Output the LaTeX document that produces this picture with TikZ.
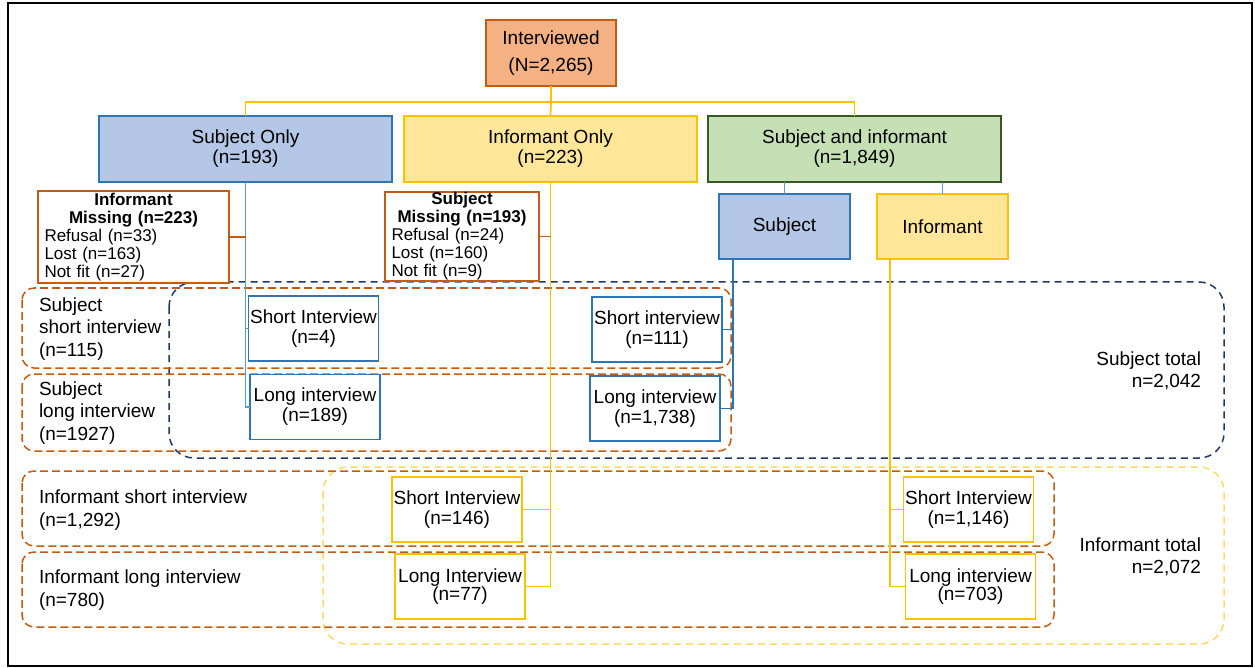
\documentclass[tikz,border=0pt]{standalone}
\usepackage{fontspec}
\setmainfont{Liberation Sans}
\definecolor{orgfill}{HTML}{F4B183}
\definecolor{orgdraw}{HTML}{C55A11}
\definecolor{bluefill}{HTML}{B4C7E7}
\definecolor{bluedraw}{HTML}{2E75B6}
\definecolor{bluelight}{HTML}{5B9BD5}
\definecolor{yelfill}{HTML}{FFE699}
\definecolor{yeldraw}{HTML}{FFC000}
\definecolor{yeldash}{HTML}{FFD966}
\definecolor{grnfill}{HTML}{C5E0B4}
\definecolor{grndraw}{HTML}{385723}
\definecolor{navy}{HTML}{203864}
\begin{document}
\begin{tikzpicture}[x=1pt,y=-1pt,
  every node/.style={inner sep=0pt, outer sep=0pt},
  box/.style={draw, line width=1.8pt, align=center, font=\fontsize{19}{20}\selectfont},
  bigbox/.style={box, minimum width=293pt, minimum height=66pt},
  midbox/.style={box, minimum width=131pt, minimum height=65pt},
  ibox/.style={box, fill=white, minimum width=130pt, minimum height=65pt},
  bluebox/.style={ibox, draw=bluedraw},
  yelbox/.style={ibox, draw=yeldraw},
  missbox/.style={draw=orgdraw, fill=white, line width=1.6pt, align=left, inner xsep=6.5pt, font=\fontsize{17}{18}\selectfont},
  lbl/.style={anchor=west, align=left, font=\fontsize{19}{22.5}\selectfont},
  tot/.style={anchor=east, align=right, font=\fontsize{19}{22.5}\selectfont},
  odash/.style={draw=orgdraw, line width=1.5pt, dash pattern=on 8pt off 4pt, rounded corners=12pt},
  ndash/.style={draw=navy, line width=1.5pt, dash pattern=on 7pt off 5pt, rounded corners=25pt},
  ydashf/.style={draw=yeldash, line width=1.5pt, dash pattern=on 7pt off 5pt, rounded corners=25pt},
  yline/.style={draw=yeldraw, line width=1.7pt},
  bline/.style={draw=bluedraw, line width=1.7pt},
  lbline/.style={draw=bluelight, line width=1.7pt},
  mline/.style={draw=orgdraw, line width=1.7pt}
]
\useasboundingbox (0,0) rectangle (1255,668);
% outer frame
\draw[line width=1.5pt, black] (8,3) rectangle (1252,666);

% dashed group frames
\draw[ndash] (169,282) rectangle (1224,458);
\draw[ydashf] (323,467) rectangle (1224,644);
\draw[odash] (22,288) rectangle (731,368);
\draw[odash] (22,374) rectangle (731,451);
\draw[odash] (22,471) rectangle (1054,546);
\draw[odash] (22,552) rectangle (1054,627);

% group labels
\node[lbl] (lss) at (39,329) {Subject\\short interview\\(n=115)};
\node[lbl] (lsl) at (39,413) {Subject\\long interview\\(n=1927)};
\node[lbl] (lis) at (39,510) {Informant short interview\\(n=1,292)};
\node[lbl] (lil) at (39,590) {Informant long interview\\(n=780)};
\node[tot] (stot) at (1201,371) {Subject total\\n=2,042};
\node[tot] (itot) at (1201,557) {Informant total\\n=2,072};

% main nodes
\node[box, fill=orgfill, draw=orgdraw, minimum width=130pt, minimum height=66pt,
      font=\fontsize{19}{27}\selectfont] (int) at (551,53) {Interviewed\\(N=2,265)};
\node[bigbox, fill=bluefill, draw=bluedraw] (so) at (245.5,149) {Subject Only\\(n=193)};
\node[bigbox, fill=yelfill, draw=yeldraw] (io) at (550.5,149) {Informant Only\\(n=223)};
\node[bigbox, fill=grnfill, draw=grndraw] (sai) at (854.5,149) {Subject and informant\\(n=1,849)};
\node[midbox, fill=bluefill, draw=bluedraw] (subj) at (784.5,226.5) {Subject};
\node[midbox, fill=yelfill, draw=yeldraw] (inf) at (942.5,226.5) {Informant};

\node[missbox, text width=178pt, minimum height=92pt] (im) at (133.5,237)
 {\makebox[178pt]{\textbf{Informant}}\\
  \makebox[178pt]{\textbf{Missing (n=223)}}\\
  Refusal (n=33)\\Lost (n=163)\\Not fit (n=27)};
\node[missbox, text width=141pt, minimum height=89pt] (sm) at (462,236.5)
 {\makebox[141pt]{\textbf{Subject}}\\
  \makebox[141pt]{\textbf{Missing (n=193)}}\\
  Refusal (n=24)\\Lost (n=160)\\Not fit (n=9)};

% interview boxes
\node[bluebox] (s4) at (313.5,328.5) {Short Interview\\(n=4)};
\node[bluebox] (l189) at (315,407) {Long interview\\(n=189)};
\node[bluebox] (s111) at (657,329.5) {Short interview\\(n=111)};
\node[bluebox] (l1738) at (655,408.5) {Long interview\\(n=1,738)};
\node[yelbox] (s146) at (457,509.5) {Short Interview\\(n=146)};
\node[yelbox, font=\fontsize{19}{18.5}\selectfont] (l77) at (460,586.5) {Long Interview\\(n=77)};
\node[yelbox] (s1146) at (968.5,509.5) {Short Interview\\(n=1,146)};
\node[yelbox, font=\fontsize{19}{18.5}\selectfont] (l703) at (970.5,586.5) {Long interview\\(n=703)};

% connectors
\coordinate (bus) at (551,102);
\draw[yline] (int.south) -- (bus);
\draw[yline] (so.north) |- (bus) -| (sai.north);
\draw[yline] (bus) -- (io.north);

\draw[lbline] (sai.south -| subj.north) -- (subj.north);
\draw[lbline] (sai.south -| inf.north) -- (inf.north);

\draw[lbline] (so.south) |- (l189.west);
\draw[lbline] (so.south |- s4.west) -- (s4.west);
\draw[mline] (im.east) -- (im.east -| so.south);

\draw[yline] (io.south) |- (l77.east);
\draw[yline] (io.south |- s146.east) -- (s146.east);
\draw[mline] (sm.east) -- (sm.east -| io.south);

\coordinate (sd) at ([xshift=14pt]subj.south west);
\draw[bline] (sd) |- (l1738.east);
\draw[bline] (sd |- s111.east) -- (s111.east);

\coordinate (id) at ([xshift=13pt]inf.south west);
\draw[yline] (id) |- (l703.west);
\draw[yline] (id |- s1146.west) -- (s1146.west);
\end{tikzpicture}
\end{document}
